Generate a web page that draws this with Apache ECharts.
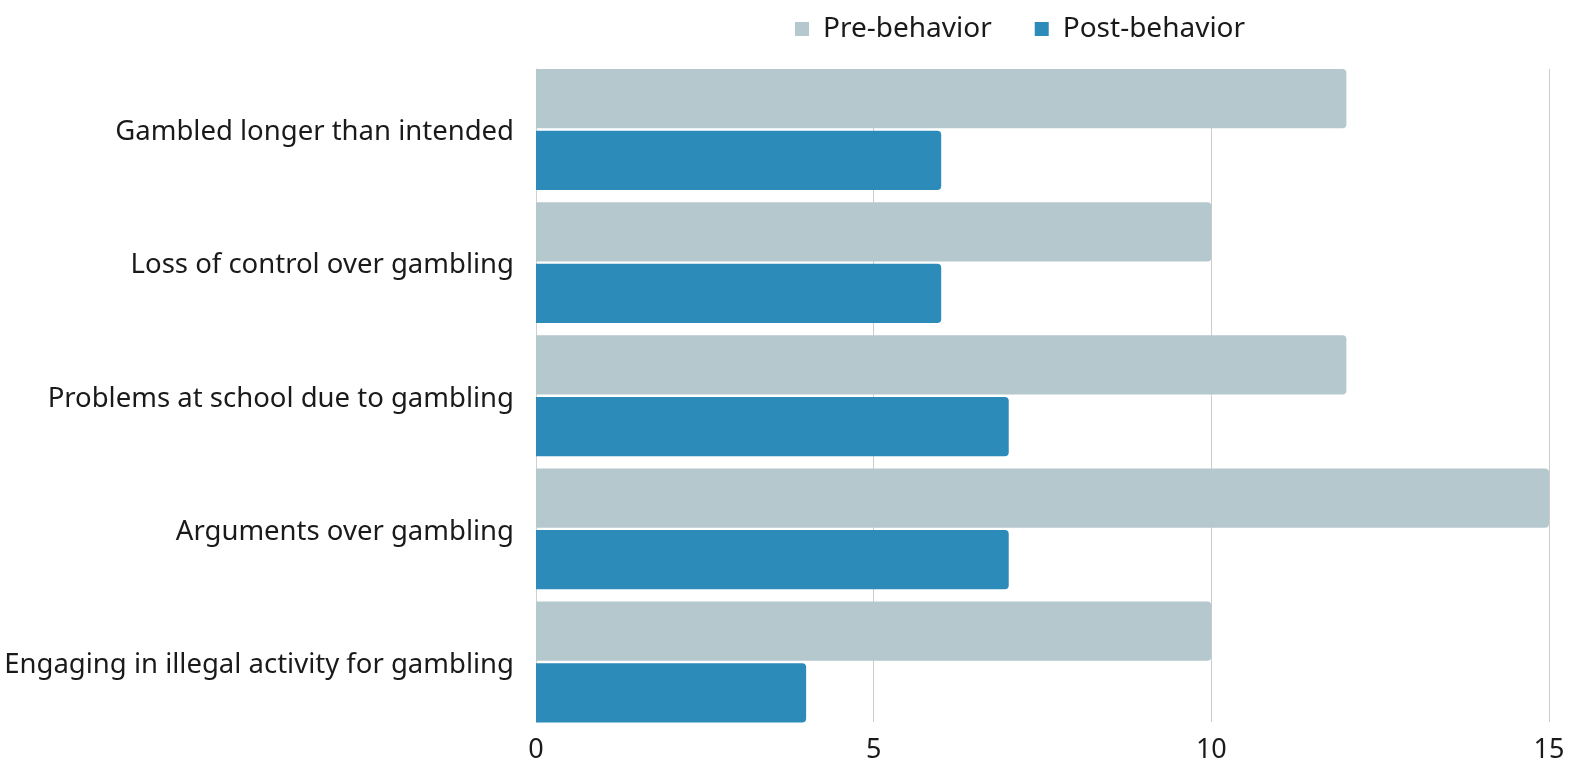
<!DOCTYPE html>
<html>
<head>
<meta charset="utf-8">
<script src="https://cdn.jsdelivr.net/npm/echarts@6/dist/echarts.min.js"></script>
<style>
  html, body { margin: 0; padding: 0; background: #fff; }
  #chart { width: 1579px; height: 765px; }
</style>
</head>
<body>
<div id="chart"></div>
<script>
const categories = [
  "Gambled longer than intended",
  "Loss of control over gambling",
  "Problems at school due to gambling",
  "Arguments over gambling",
  "Engaging in illegal activity for gambling"
];
const preBehavior = [12, 10, 12, 15, 10];
const postBehavior = [6, 6, 7, 7, 4];
const xTicks = { min: 0, max: 15, interval: 5 };

const chart = echarts.init(document.getElementById("chart"));
const font = "Noto Sans";

chart.setOption({
  textStyle: { fontFamily: font },
  legend: {
    left: 790,
    top: 10,
    itemWidth: 14,
    itemHeight: 14,
    itemGap: 43,
    icon: "rect",
    textStyle: { fontSize: 28, color: "#1a1a1a", fontFamily: font, padding: [0, 0, 0, 9] },
    data: ["Pre-behavior", "Post-behavior"]
  },
  // grid 0 holds the bars, grid 1 draws the grid lines over the bar span only
  grid: [
    { left: 536, right: 30, top: 63, bottom: 36.5 },
    { left: 536, right: 30, top: 69, bottom: 43 }
  ],
  xAxis: [
    {
      type: "value", gridIndex: 0, ...xTicks,
      axisLine: { show: false }, axisTick: { show: false },
      splitLine: { show: false }, axisLabel: { show: false }
    },
    {
      type: "value", gridIndex: 1, ...xTicks,
      axisLine: { show: false }, axisTick: { show: false },
      splitLine: { show: true, lineStyle: { color: "#cccccc", width: 1 } },
      axisLabel: { fontSize: 27, color: "#1a1a1a", margin: 15, fontFamily: font }
    }
  ],
  yAxis: [
    {
      type: "category", gridIndex: 0, inverse: true, data: categories,
      axisLine: { show: false }, axisTick: { show: false },
      axisLabel: {
        margin: 22,
        formatter: "{t|{value}}",
        rich: {
          t: { fontSize: 27.5, color: "#1a1a1a", fontFamily: font, padding: [6, 0, 0, 0] }
        }
      }
    },
    {
      type: "value", gridIndex: 1, min: 0, max: 1,
      axisLine: { show: true, lineStyle: { color: "#d0d0d0" } },
      axisTick: { show: false }, axisLabel: { show: false }, splitLine: { show: false }
    }
  ],
  series: [
    {
      name: "Pre-behavior",
      type: "bar",
      xAxisIndex: 0, yAxisIndex: 0,
      data: preBehavior,
      barGap: "4%",
      barCategoryGap: "9.2%",
      z: 3,
      itemStyle: { color: "#B5C8CE", borderRadius: [0, 4, 4, 0] }
    },
    {
      name: "Post-behavior",
      type: "bar",
      xAxisIndex: 0, yAxisIndex: 0,
      data: postBehavior,
      z: 3,
      itemStyle: { color: "#2D8BBA", borderRadius: [0, 4, 4, 0] }
    }
  ]
});
</script>
</body>
</html>
